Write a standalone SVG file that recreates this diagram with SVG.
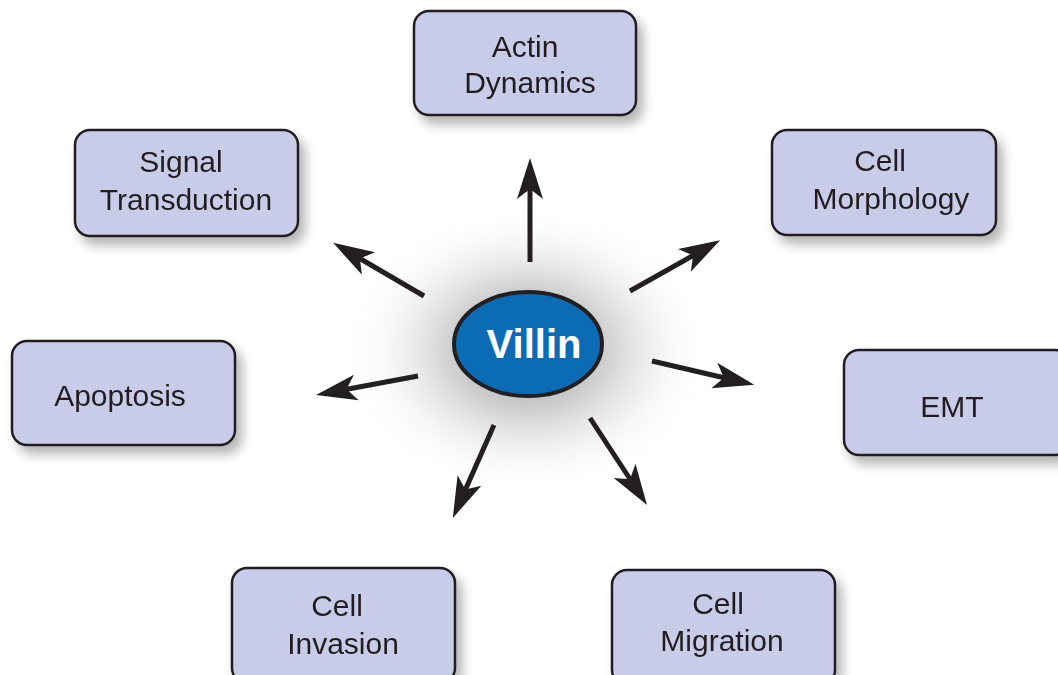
<svg xmlns="http://www.w3.org/2000/svg" width="1058" height="675" viewBox="0 0 1058 675">
<defs>
<radialGradient id="glow" cx="0.5" cy="0.5" r="0.5">
<stop offset="0" stop-color="#7a7a7a" stop-opacity="0.85"/>
<stop offset="0.45" stop-color="#b0b0b0" stop-opacity="0.55"/>
<stop offset="1" stop-color="#ffffff" stop-opacity="0"/>
</radialGradient>
<filter id="sh" x="-20%" y="-20%" width="150%" height="160%">
<feGaussianBlur in="SourceAlpha" stdDeviation="6"/>
<feOffset dx="6" dy="8" result="b"/>
<feComponentTransfer><feFuncA type="linear" slope="0.3"/></feComponentTransfer>
<feMerge><feMergeNode/><feMergeNode in="SourceGraphic"/></feMerge>
</filter>
<marker id="ah" markerUnits="userSpaceOnUse" markerWidth="50" markerHeight="40" refX="0" refY="0" orient="auto" overflow="visible">
<path d="M30,0 L-11,-13 L-1,0 L-11,13 Z" fill="#231f20"/>
</marker>
<style>
.box{fill:#c8cce8;stroke:#231f20;stroke-width:2.5}
.t{font-family:"Liberation Sans",Arial,sans-serif;font-size:30px;fill:#231f20;text-anchor:middle}
.c{stroke:#231f20;stroke-width:5;fill:none;marker-end:url(#ah)}
</style>
</defs>
<rect width="1058" height="675" fill="#ffffff"/>
<ellipse cx="528" cy="350" rx="185" ry="145" fill="url(#glow)"/>

<g id="connectors">
<line class="c" x1="530" y1="262" x2="530" y2="188"/>
<line class="c" x1="424" y1="296" x2="359" y2="258"/>
<line class="c" x1="630" y1="291" x2="694" y2="255"/>
<line class="c" x1="652" y1="361" x2="725" y2="378"/>
<line class="c" x1="418" y1="376" x2="345.5" y2="389.5"/>
<line class="c" x1="494" y1="425" x2="465" y2="490.5"/>
<line class="c" x1="590" y1="418" x2="630.6" y2="480"/>
</g>

<g id="actin" filter="url(#sh)">
<rect class="box" x="414" y="11" width="222" height="104" rx="15"/>
<text class="t" x="525" y="57">Actin</text>
<text class="t" x="530" y="93">Dynamics</text>
</g>
<g id="signal" filter="url(#sh)">
<rect class="box" x="75" y="130" width="223" height="106" rx="15"/>
<text class="t" x="181" y="172">Signal</text>
<text class="t" x="186" y="210">Transduction</text>
</g>
<g id="morphology" filter="url(#sh)">
<rect class="box" x="772" y="130" width="224" height="105" rx="15"/>
<text class="t" x="880" y="171">Cell</text>
<text class="t" x="891" y="209">Morphology</text>
</g>
<g id="apoptosis" filter="url(#sh)">
<rect class="box" x="12" y="341" width="223" height="104" rx="15"/>
<text class="t" x="120" y="406">Apoptosis</text>
</g>
<g id="emt" filter="url(#sh)">
<rect class="box" x="844" y="350" width="226" height="105" rx="15"/>
<text class="t" x="952" y="417">EMT</text>
</g>
<g id="invasion" filter="url(#sh)">
<rect class="box" x="232" y="568" width="223" height="115" rx="15"/>
<text class="t" x="337" y="616">Cell</text>
<text class="t" x="343" y="654">Invasion</text>
</g>
<g id="migration" filter="url(#sh)">
<rect class="box" x="612" y="570" width="223" height="115" rx="15"/>
<text class="t" x="718" y="614">Cell</text>
<text class="t" x="722" y="651">Migration</text>
</g>

<g id="villin">
<ellipse cx="528" cy="344" rx="74" ry="52" fill="#0b6cb5" stroke="#231f20" stroke-width="4"/>
<text x="534" y="358" font-family="'Liberation Sans',Arial,sans-serif" font-size="40" font-weight="bold" fill="#ffffff" text-anchor="middle">Villin</text>
</g>
</svg>
